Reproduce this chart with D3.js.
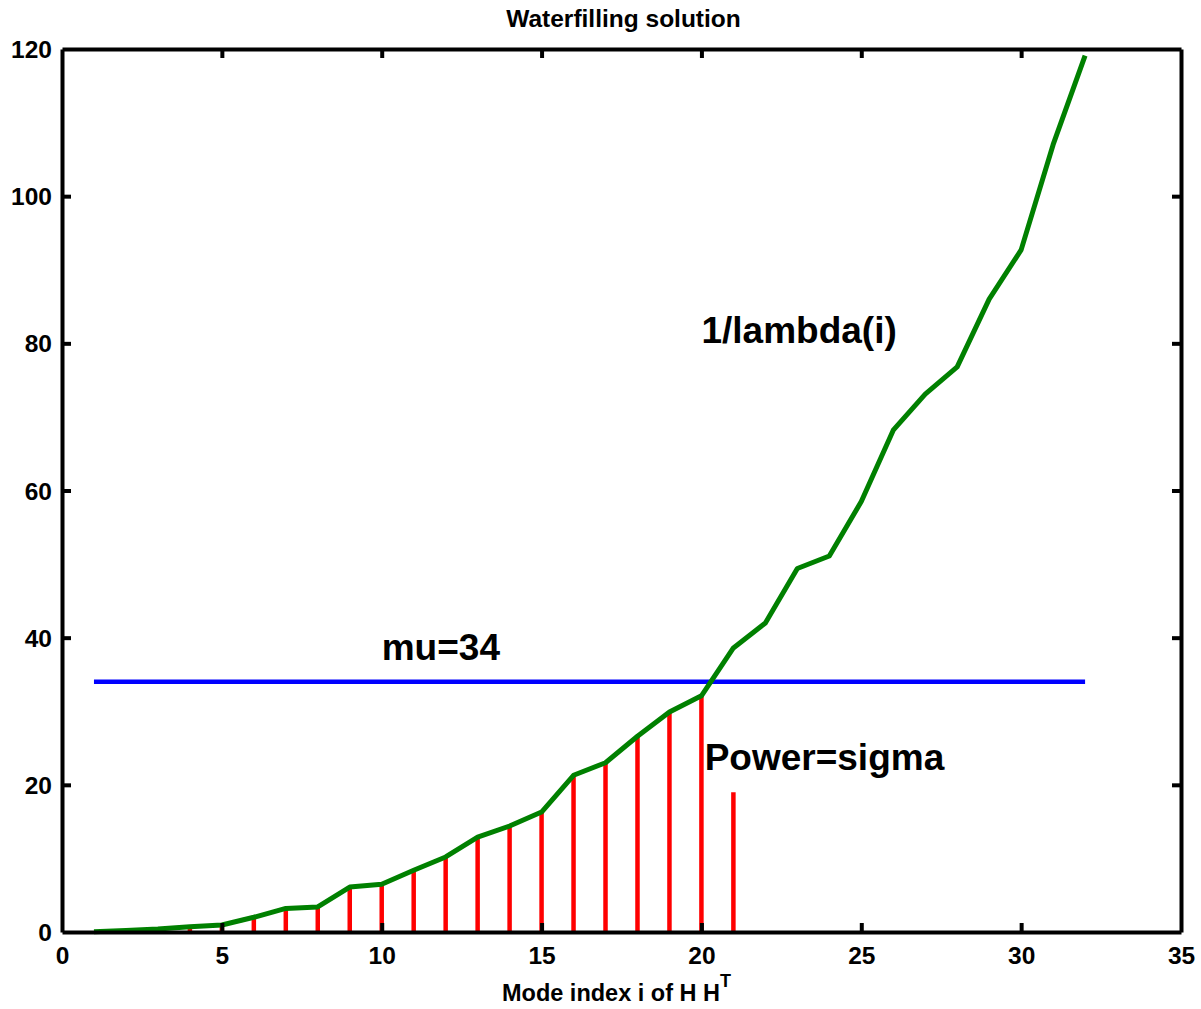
<!DOCTYPE html>
<html>
<head>
<meta charset="utf-8">
<script src="https://cdn.jsdelivr.net/npm/d3@7"></script>
<style>
  body { margin: 0; background: #fff; }
  text { font-family: "Liberation Sans", Arial, sans-serif; font-weight: bold; fill: #000; }
</style>
</head>
<body>
<div id="chart"></div>
<script>
// mode index i = 1..32
const modes = d3.range(1, 33);
// 1/lambda(i)
const invLambda = [0.05, 0.2, 0.4, 0.7, 0.95, 2.0, 3.2, 3.4, 6.1, 6.5, 8.4, 10.2, 12.9, 14.4, 16.3, 21.3,
    23.0, 26.6, 29.9, 32.1, 38.6, 42.0, 49.4, 51.1, 58.5, 68.2, 73.1, 76.8, 86.0, 92.7, 107.0, 119.1];
// red stems (power), modes 1..21
const powerModes = d3.range(1, 22);
const power = [0.05, 0.2, 0.4, 0.7, 0.95, 1.9, 3.2, 3.4, 6.1, 6.5, 8.4, 10.2, 12.9, 14.4, 16.3, 21.3,
    23.0, 26.6, 29.9, 32.1, 19.0];
const mu = 34;
const xTicks = [0, 5, 10, 15, 20, 25, 30, 35];
const yTicks = [0, 20, 40, 60, 80, 100, 120];

const margin = {top: 49, right: 20, bottom: 77, left: 62},
    W = 1201, H = 1009,
    width = W - margin.left - margin.right,
    height = H - margin.top - margin.bottom;

const svg = d3.select("#chart").append("svg")
    .attr("width", W).attr("height", H);

const g = svg.append("g")
    .attr("transform", "translate(" + margin.left + "," + margin.top + ")");

const x = d3.scaleLinear().domain([0, 35]).range([0, width]);
const y = d3.scaleLinear().domain([0, 120]).range([height, 0]);

// red stems
g.selectAll(".stem")
    .data(powerModes)
    .enter().append("line")
    .attr("class", "stem")
    .attr("x1", (d) => x(d)).attr("x2", (d) => x(d))
    .attr("y1", y(0))
    .attr("y2", (d, i) => y(power[i]))
    .attr("stroke", "#ff0000")
    .attr("stroke-width", 4.5);

// mu level
g.append("line")
    .attr("x1", x(1)).attr("x2", x(32))
    .attr("y1", y(mu)).attr("y2", y(mu))
    .attr("stroke", "#0000ff")
    .attr("stroke-width", 4.5);

// 1/lambda curve
const line = d3.line()
    .x((d) => x(d))
    .y((d, i) => y(invLambda[i]));

g.append("path")
    .datum(modes)
    .attr("d", line)
    .attr("fill", "none")
    .attr("stroke", "#008000")
    .attr("stroke-width", 5)
    .attr("stroke-linejoin", "round");

// box axes with inward ticks
const tickLen = 9;
const axisStyle = (sel) => {
    sel.select(".domain").attr("stroke", "#000").attr("stroke-width", 4);
    sel.selectAll(".tick line").attr("stroke", "#000").attr("stroke-width", 4);
};

const xb = g.append("g").attr("transform", "translate(0," + height + ")")
    .call(d3.axisBottom(x).tickValues(xTicks).tickSizeInner(-tickLen).tickSizeOuter(0));
const xt = g.append("g")
    .call(d3.axisTop(x).tickValues(xTicks).tickSizeInner(-tickLen).tickSizeOuter(0).tickFormat(""));
const yl = g.append("g")
    .call(d3.axisLeft(y).tickValues(yTicks).tickSizeInner(-tickLen).tickSizeOuter(0).tickPadding(10));
const yr = g.append("g").attr("transform", "translate(" + width + ",0)")
    .call(d3.axisRight(y).tickValues(yTicks).tickSizeInner(-tickLen).tickSizeOuter(0).tickFormat(""));

[xb, xt, yl, yr].forEach(axisStyle);

xb.selectAll(".tick text").style("font-size", "24.5px").attr("dy", "0.71em").attr("y", 15);
yl.selectAll(".tick text").style("font-size", "24.5px").attr("dy", "0.35em");
// remove tick marks at the corners so the frame stays clean
[xb, xt].forEach((a) => a.selectAll(".tick").filter((d) => d === 0 || d === 35).select("line").remove());
[yl, yr].forEach((a) => a.selectAll(".tick").filter((d) => d === 0 || d === 120).select("line").remove());

// annotations
g.append("text").attr("x", x(20)).attr("y", y(80))
    .style("font-size", "37px").text("1/lambda(i)");
g.append("text").attr("x", x(10)).attr("y", y(37))
    .style("font-size", "37px").text("mu=34");
g.append("text").attr("x", x(20.1)).attr("y", y(22))
    .style("font-size", "37px").text("Power=sigma");

// title and axis label
svg.append("text")
    .attr("x", margin.left + width / 2 + 2).attr("y", 27)
    .attr("text-anchor", "middle")
    .style("font-size", "24.5px")
    .text("Waterfilling solution");

const xl = svg.append("text")
    .attr("x", margin.left + width / 2 - 5).attr("y", 1001)
    .attr("text-anchor", "middle")
    .style("font-size", "23.5px");
xl.append("tspan").text("Mode index i of H H");
xl.append("tspan").attr("dy", -14).style("font-size", "18px").text("T");
</script>
</body>
</html>
